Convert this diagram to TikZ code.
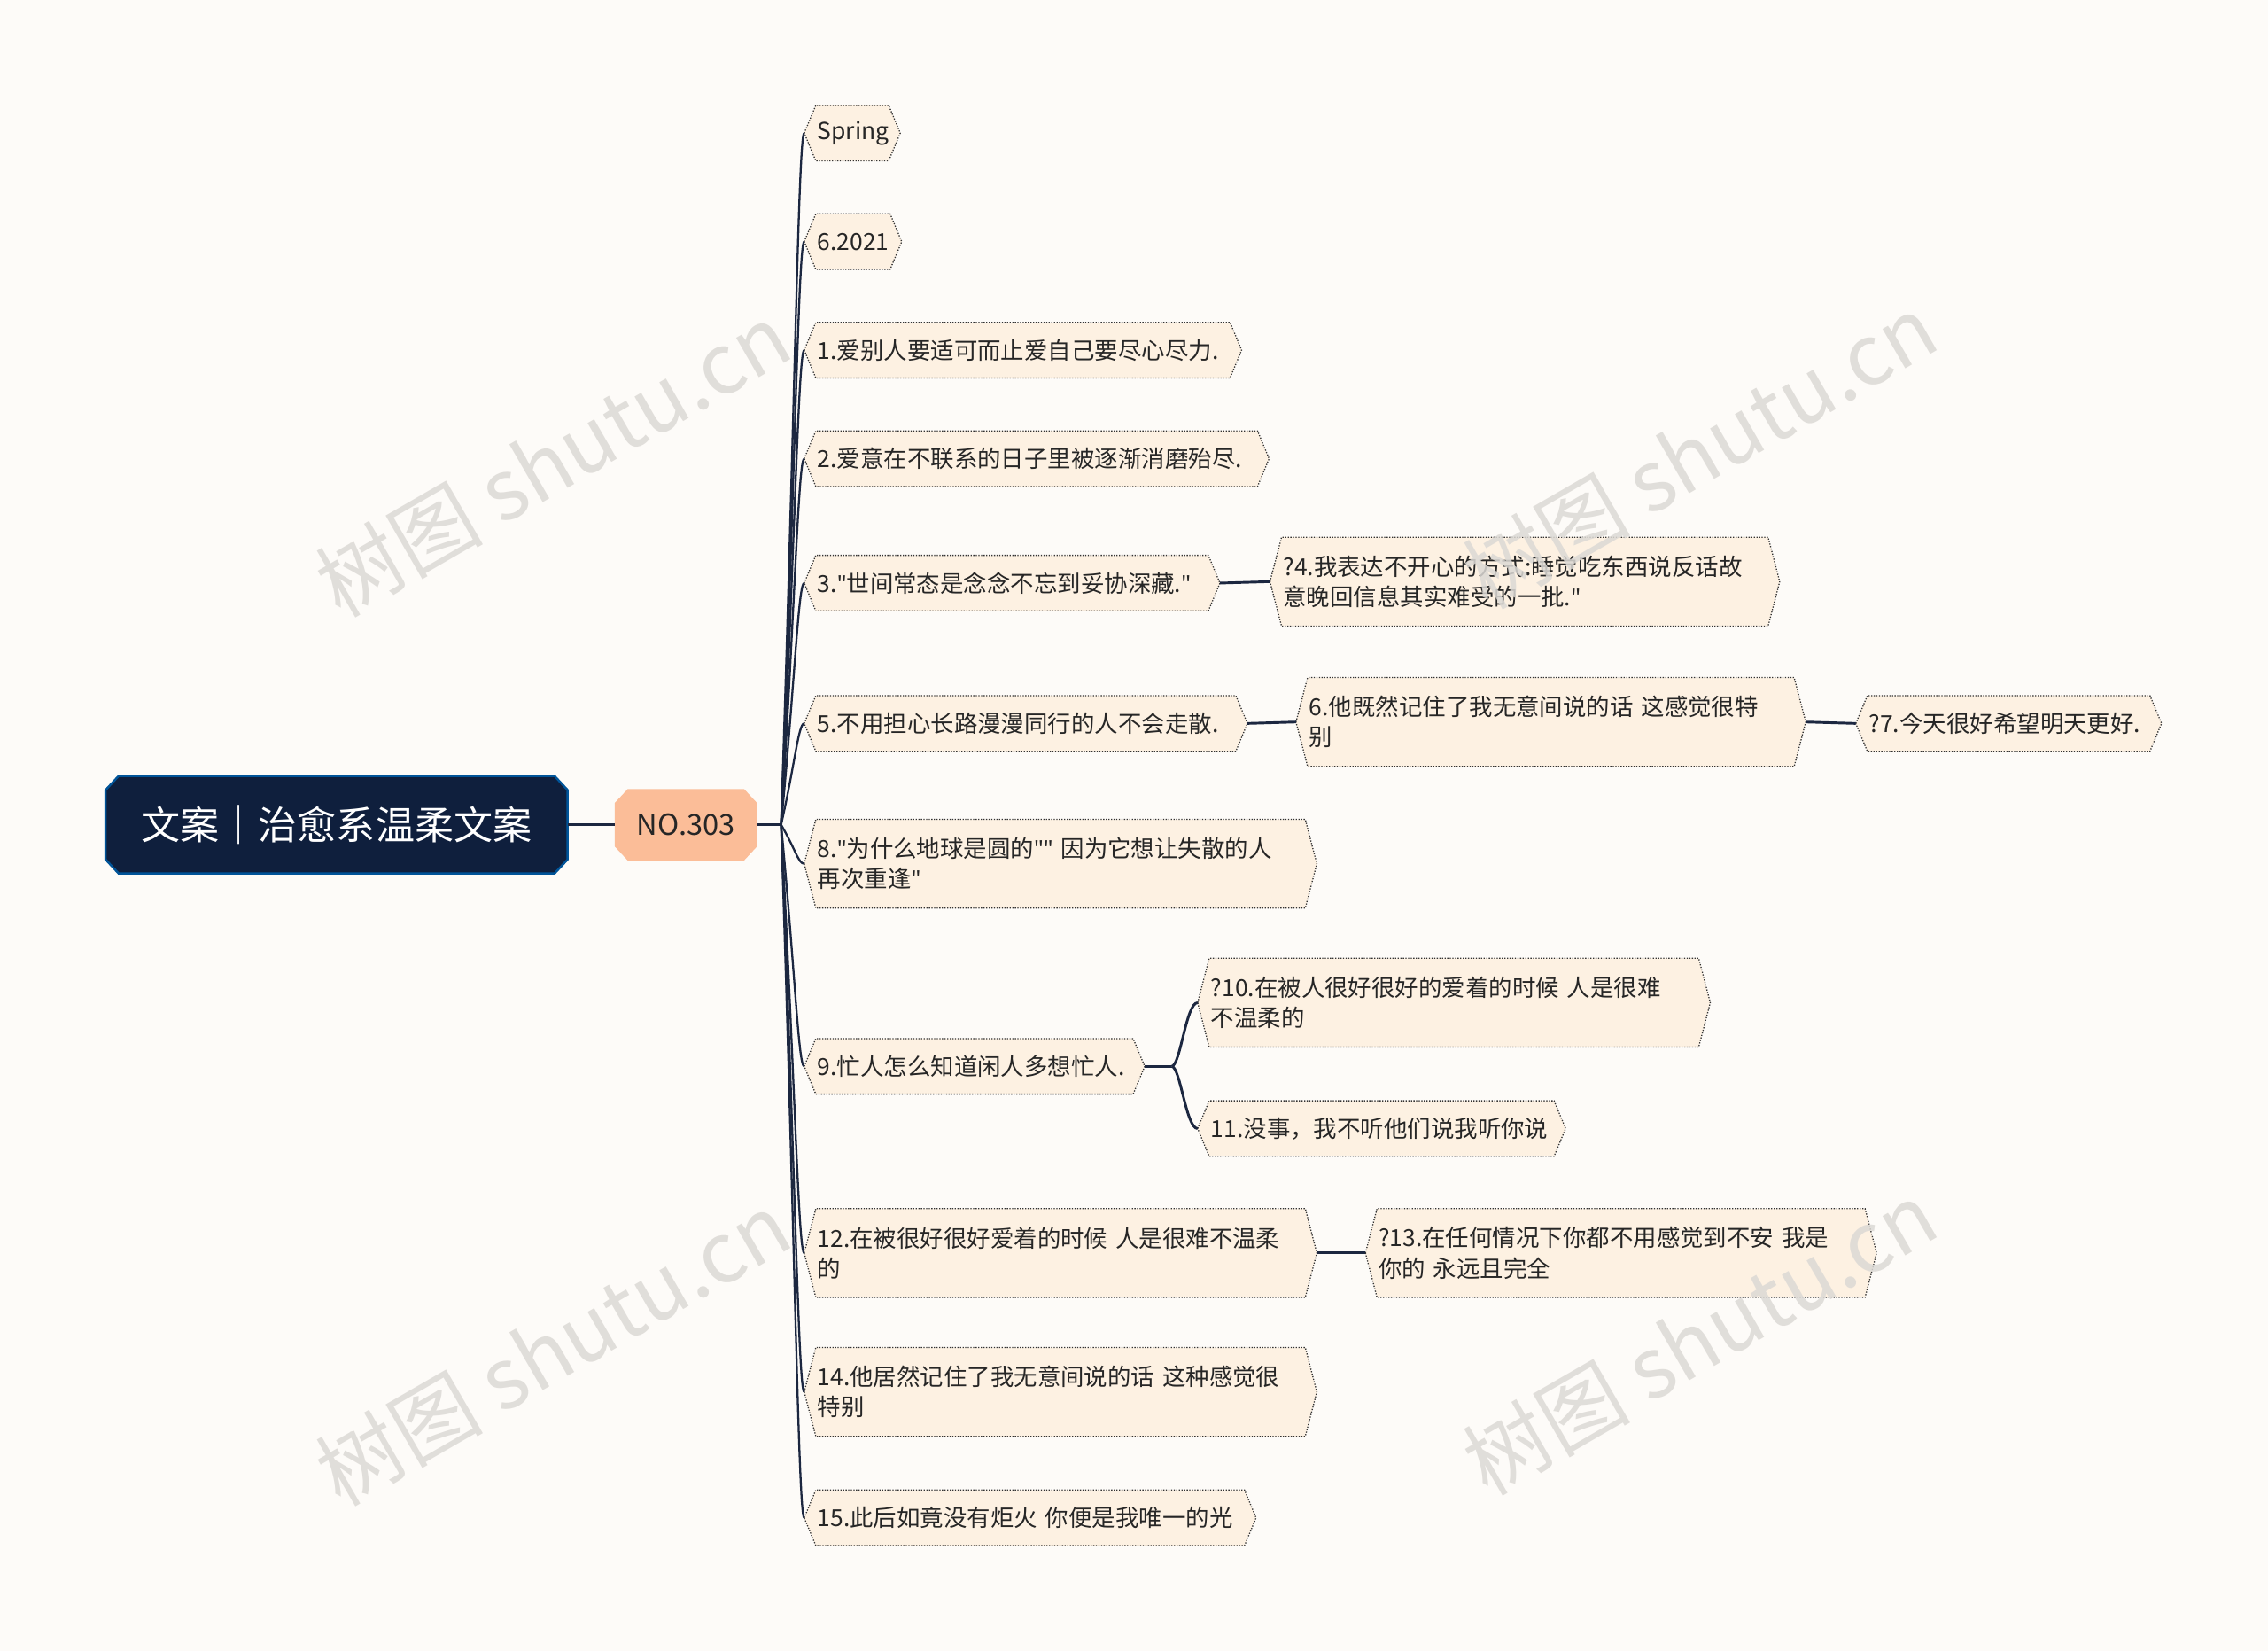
\documentclass[tikz,border=0pt]{standalone}
\usepackage{fontspec}
\setmainfont{Noto Sans CJK SC}
\newfontfamily\latf{Noto Sans}
\newcommand{\qq}{{\latf "}}
\usetikzlibrary{calc,backgrounds}
\definecolor{bg}{HTML}{FDFBF8}
\definecolor{leaffill}{HTML}{FDF1E2}
\definecolor{navy}{HTML}{0F1F3D}
\definecolor{lnk}{HTML}{1C2740}
\definecolor{peach}{HTML}{FBBD98}
\definecolor{wm}{HTML}{DCD9D5}
\tikzset{
 leaf/.style={anchor=west, inner xsep=9pt, inner ysep=3pt, minimum height=38pt, align=left,
   font=\fontsize{16.2}{21}\selectfont, text=black!85},
 link/.style={draw=lnk, line width=1.8pt},
 wmark/.style={text=wm, opacity=0.85, rotate=30, font=\fontsize{58}{60}\selectfont}
}
\begin{document}
\begin{tikzpicture}[x=1pt,y=-1pt]
\useasboundingbox (0,0) rectangle (1568,1141);

\node[anchor=west, minimum width=319pt, minimum height=67pt, text=white, font=\fontsize{27}{30}\selectfont] (root) at (73,570) {文案｜治愈系温柔文案};
\node[anchor=west, minimum width=98pt, minimum height=49pt, text=black!85, font=\fontsize{20}{24}\selectfont] (hub) at (425,570) {NO.303};

\node[leaf, text width=48pt] (s) at (556,92) {Spring};
\node[leaf, text width=49pt] (d) at (556,167) {6.2021};
\node[leaf, text width=284pt] (n1) at (556,242) {1.爱别人要适可而止爱自己要尽心尽力.};
\node[leaf, text width=303pt] (n2) at (556,317) {2.爱意在不联系的日子里被逐渐消磨殆尽.};
\node[leaf, text width=269pt] (n3) at (556,403) {3.\qq 世间常态是念念不忘到妥协深藏.\qq};
\node[leaf, text width=334pt, minimum height=61pt] (n4) at (878,402) {?4.我表达不开心的方式:睡觉吃东西说反话故\\意晚回信息其实难受的一批.\qq};
\node[leaf, text width=288pt] (n5) at (556,500) {5.不用担心长路漫漫同行的人不会走散.};
\node[leaf, text width=334pt, minimum height=61pt] (n6) at (896,499) {6.他既然记住了我无意间说的话 这感觉很特\\别};
\node[leaf, text width=193pt] (n7) at (1283,500) {?7.今天很好希望明天更好.};
\node[leaf, text width=336pt, minimum height=61pt] (n8) at (556,597) {8.\qq 为什么地球是圆的\qq\qq{} 因为它想让失散的人\\再次重逢\qq};
\node[leaf, text width=217pt] (n9) at (556,737) {9.忙人怎么知道闲人多想忙人.};
\node[leaf, text width=336pt, minimum height=61pt] (n10) at (828,693) {?10.在被人很好很好的爱着的时候 人是很难\\不温柔的};
\node[leaf, text width=236pt] (n11) at (828,780) {11.没事，我不听他们说我听你说};
\node[leaf, text width=336pt, minimum height=61pt] (n12) at (556,866) {12.在被很好很好爱着的时候 人是很难不温柔\\的};
\node[leaf, text width=335pt, minimum height=61pt] (n13) at (944,866) {?13.在任何情况下你都不用感觉到不安 我是\\你的 永远且完全};
\node[leaf, text width=336pt, minimum height=61pt] (n14) at (556,962) {14.他居然记住了我无意间说的话 这种感觉很\\特别};
\node[leaf, text width=294pt] (n15) at (556,1049) {15.此后如竟没有炬火 你便是我唯一的光};

\begin{pgfonlayer}{background}
\fill[bg] (0,0) rectangle (1568,1141);
\foreach \n in {s,d,n1,n2,n3,n4,n5,n6,n7,n8,n9,n10,n11,n12,n13,n14,n15}{
 \draw[fill=leaffill, draw=black!80, densely dotted, line width=0.8pt]
  (\n.west) -- ($(\n.north west)+(8,0)$) -- ($(\n.north east)+(-8,0)$) -- (\n.east)
  -- ($(\n.south east)+(-8,0)$) -- ($(\n.south west)+(8,0)$) -- cycle;
}
\draw[fill=navy, draw=blue!45!cyan!60!black, line width=1.5pt]
  ($(root.west)+(0,-24)$) -- ($(root.north west)+(9,0)$) -- ($(root.north east)+(-9,0)$) -- ($(root.east)+(0,-24)$)
  -- ($(root.east)+(0,24)$) -- ($(root.south east)+(-9,0)$) -- ($(root.south west)+(9,0)$) -- ($(root.west)+(0,24)$) -- cycle;
\fill[peach]
  ($(hub.west)+(0,-15)$) -- ($(hub.north west)+(9,0)$) -- ($(hub.north east)+(-9,0)$) -- ($(hub.east)+(0,-15)$)
  -- ($(hub.east)+(0,15)$) -- ($(hub.south east)+(-9,0)$) -- ($(hub.south west)+(9,0)$) -- ($(hub.west)+(0,15)$) -- cycle;
\coordinate (J) at (540,570);
\draw[link] (root.east) -- (hub.west);
\draw[link] (hub.east) -- (J);
\foreach \n in {s,d,n1,n2,n3,n5,n8,n9,n12,n14,n15}{
 \draw[link, line width=1.4pt] (J) .. controls ($(J)!0.6!(\n.west)$) and ($(\n.west)+(-4,0)$) .. (\n.west);
}
\draw[link] (n3.east) -- (n4.west);
\draw[link] (n5.east) -- (n6.west);
\draw[link] (n6.east) -- (n7.west);
\draw[link] (n12.east) -- (n13.west);
\coordinate (K) at (810,737);
\draw[link] (n9.east) -- (K);
\draw[link] (K) .. controls (816,737) and (820,693) .. (n10.west);
\draw[link] (K) .. controls (816,737) and (820,780) .. (n11.west);
\end{pgfonlayer}
\node[wmark] at (382,318) {树图 shutu.cn};
\node[wmark] at (1175,312) {树图 shutu.cn};
\node[wmark] at (382,932) {树图 shutu.cn};
\node[wmark] at (1175,925) {树图 shutu.cn};
\end{tikzpicture}
\end{document}
